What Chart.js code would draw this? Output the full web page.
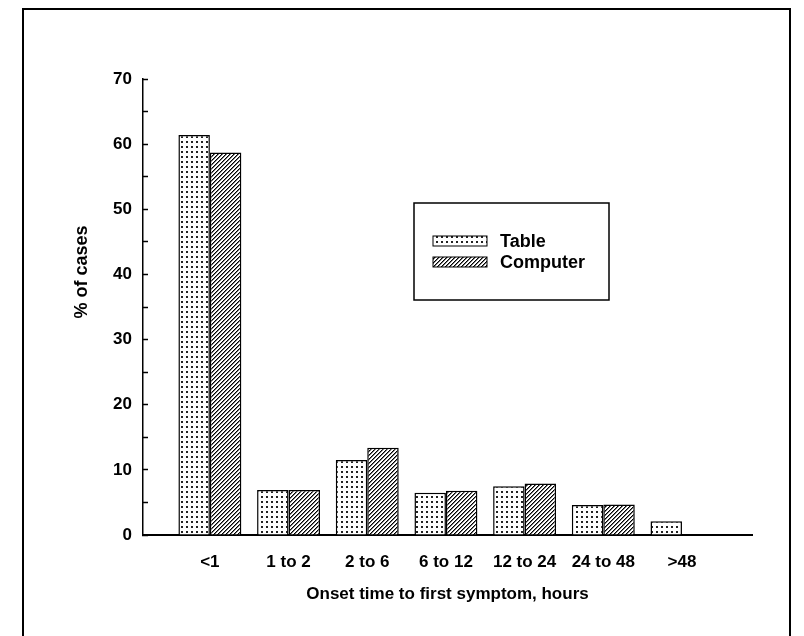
<!DOCTYPE html>
<html>
<head>
<meta charset="utf-8">
<title>Onset time to first symptom</title>
<script src="https://cdn.jsdelivr.net/npm/chart.js@4.4.1/dist/chart.umd.min.js"></script>
<style>
  html, body { margin: 0; padding: 0; background: #fff; overflow: hidden; }
  #wrap { position: relative; width: 804px; height: 636px; }
  #frame {
    position: absolute; left: 22px; top: 8px; width: 765px; height: 700px;
    border: 2px solid #000; border-bottom: none; pointer-events: none;
  }
  #chart { position: absolute; left: 0; top: 0; }
</style>
</head>
<body>
<div id="wrap">
  <div id="frame"></div>
  <canvas id="chart" width="804" height="636"></canvas>
</div>
<script>
const FONT = "'Liberation Sans', Arial, Helvetica, sans-serif";

// values (% of cases)
const categories = ['<1', '1 to 2', '2 to 6', '6 to 12', '12 to 24', '24 to 48', '>48'];
const seriesNames = ['Table', 'Computer'];
const tableValues = [61.4, 6.9, 11.5, 6.5, 7.5, 4.6, 2.1];
const computerValues = [58.7, 6.9, 13.4, 6.8, 7.9, 4.7, 0];
const yMax = 70;
const yStep = 5;      // small ticks every 5, labels every 10
const xTitle = 'Onset time to first symptom, hours';
const yTitle = '% of cases';

const canvas = document.getElementById('chart');
const ctx = canvas.getContext('2d');

// dotted fill for "Table"
function dotPattern() {
  const t = document.createElement('canvas');
  t.width = 5; t.height = 5;
  const c = t.getContext('2d');
  c.fillStyle = '#fff';
  c.fillRect(0, 0, 5, 5);
  c.fillStyle = '#222';
  c.fillRect(1, 1, 2, 2);
  return ctx.createPattern(t, 'repeat');
}

// "/" hatching for "Computer"
function hatchPattern() {
  const t = document.createElement('canvas');
  t.width = 4; t.height = 4;
  const c = t.getContext('2d');
  c.fillStyle = '#fff';
  c.fillRect(0, 0, 4, 4);
  for (let i = 0; i < 4; i++) {
    c.fillStyle = '#000';
    c.fillRect(i, 3 - i, 1, 1);
    c.fillStyle = '#777';
    c.fillRect((i + 1) % 4, 3 - i, 1, 1);
  }
  return ctx.createPattern(t, 'repeat');
}

const toPoints = (vals) => vals.map((v, i) => ({ x: i, y: v }));

// legend drawn as a boxed key inside the plot, like the original figure
const boxedLegend = {
  id: 'boxedLegend',
  afterDraw(chart, args, opts) {
    const { ctx: c, chartArea } = chart;
    const x0 = chartArea.left + opts.left;
    const y0 = chartArea.top + opts.top;
    c.save();
    c.strokeStyle = '#000';
    c.lineWidth = 1.5;
    c.strokeRect(x0, y0, opts.width, opts.height);
    c.font = 'bold 18px ' + FONT;
    c.textBaseline = 'middle';
    chart.data.datasets.forEach((ds, i) => {
      const sy = y0 + opts.rowTop + i * opts.rowGap;
      c.fillStyle = ds.backgroundColor;
      c.fillRect(x0 + opts.swatchLeft, sy, opts.swatchW, opts.swatchH);
      c.lineWidth = 1;
      c.strokeRect(x0 + opts.swatchLeft, sy, opts.swatchW, opts.swatchH);
      c.fillStyle = '#000';
      c.fillText(ds.label, x0 + opts.textLeft, sy + opts.swatchH / 2 + 1);
    });
    c.restore();
  },
};

// y title sits a bit above the middle of the axis in the original
const sideTitle = {
  id: 'sideTitle',
  afterDraw(chart, args, opts) {
    const c = chart.ctx;
    c.save();
    c.translate(opts.x, chart.chartArea.top + opts.y);
    c.rotate(-Math.PI / 2);
    c.font = 'bold 18px ' + FONT;
    c.fillStyle = '#000';
    c.textAlign = 'center';
    c.textBaseline = 'middle';
    c.fillText(opts.text, 0, 0);
    c.restore();
  },
};

const tickFont = { family: FONT, size: 17, weight: 'bold' };

const chart = new Chart(canvas, {
  type: 'bar',
  data: {
    datasets: [
      {
        label: seriesNames[0],
        data: toPoints(tableValues),
        backgroundColor: dotPattern(),
        borderColor: '#000',
        borderWidth: 1.5,
      },
      {
        label: seriesNames[1],
        data: toPoints(computerValues),
        backgroundColor: hatchPattern(),
        borderColor: '#000',
        borderWidth: 1.5,
      },
    ],
  },
  plugins: [boxedLegend, sideTitle],
  options: {
    responsive: false,
    animation: false,
    events: [],
    layout: { padding: { top: 79, right: 52, left: 0, bottom: 0 } },
    datasets: { bar: { categoryPercentage: 0.8, barPercentage: 1.0 } },
    scales: {
      x: {
        type: 'linear',
        offset: false,
        min: -0.85,
        max: 6.89,
        afterBuildTicks: (scale) => {
          scale.ticks = categories.map((_, i) => ({ value: i }));
        },
        afterFit: (scale) => { scale.height = 101; },
        grid: { display: false, offset: false },
        border: { display: true, color: '#000', width: 2 },
        ticks: {
          color: '#000',
          font: tickFont,
          padding: 9,
          maxRotation: 0,
          autoSkip: false,
          callback: (value) => categories[value],
        },
        title: {
          display: true,
          text: xTitle,
          color: '#000',
          font: tickFont,
          padding: { top: 0, bottom: 31 },
        },
      },
      y: {
        min: 0,
        max: yMax,
        afterFit: (scale) => { scale.width = 143; },
        grid: {
          drawOnChartArea: false,
          drawTicks: true,
          tickLength: -5,
          tickColor: '#000',
          tickWidth: 1.5,
        },
        border: { display: true, color: '#000', width: 1.5 },
        ticks: {
          stepSize: yStep,
          autoSkip: false,
          color: '#000',
          font: tickFont,
          padding: 16,
          callback: (value) => (value % 10 === 0 ? String(value) : ''),
        },
      },
    },
    plugins: {
      legend: { display: false },
      tooltip: { enabled: false },
      boxedLegend: {
        left: 271, top: 124, width: 195, height: 97,
        swatchLeft: 19, swatchW: 54, swatchH: 10,
        rowTop: 33, rowGap: 21, textLeft: 86,
      },
      sideTitle: { text: yTitle, x: 82, y: 193 },
    },
  },
});
</script>
</body>
</html>
